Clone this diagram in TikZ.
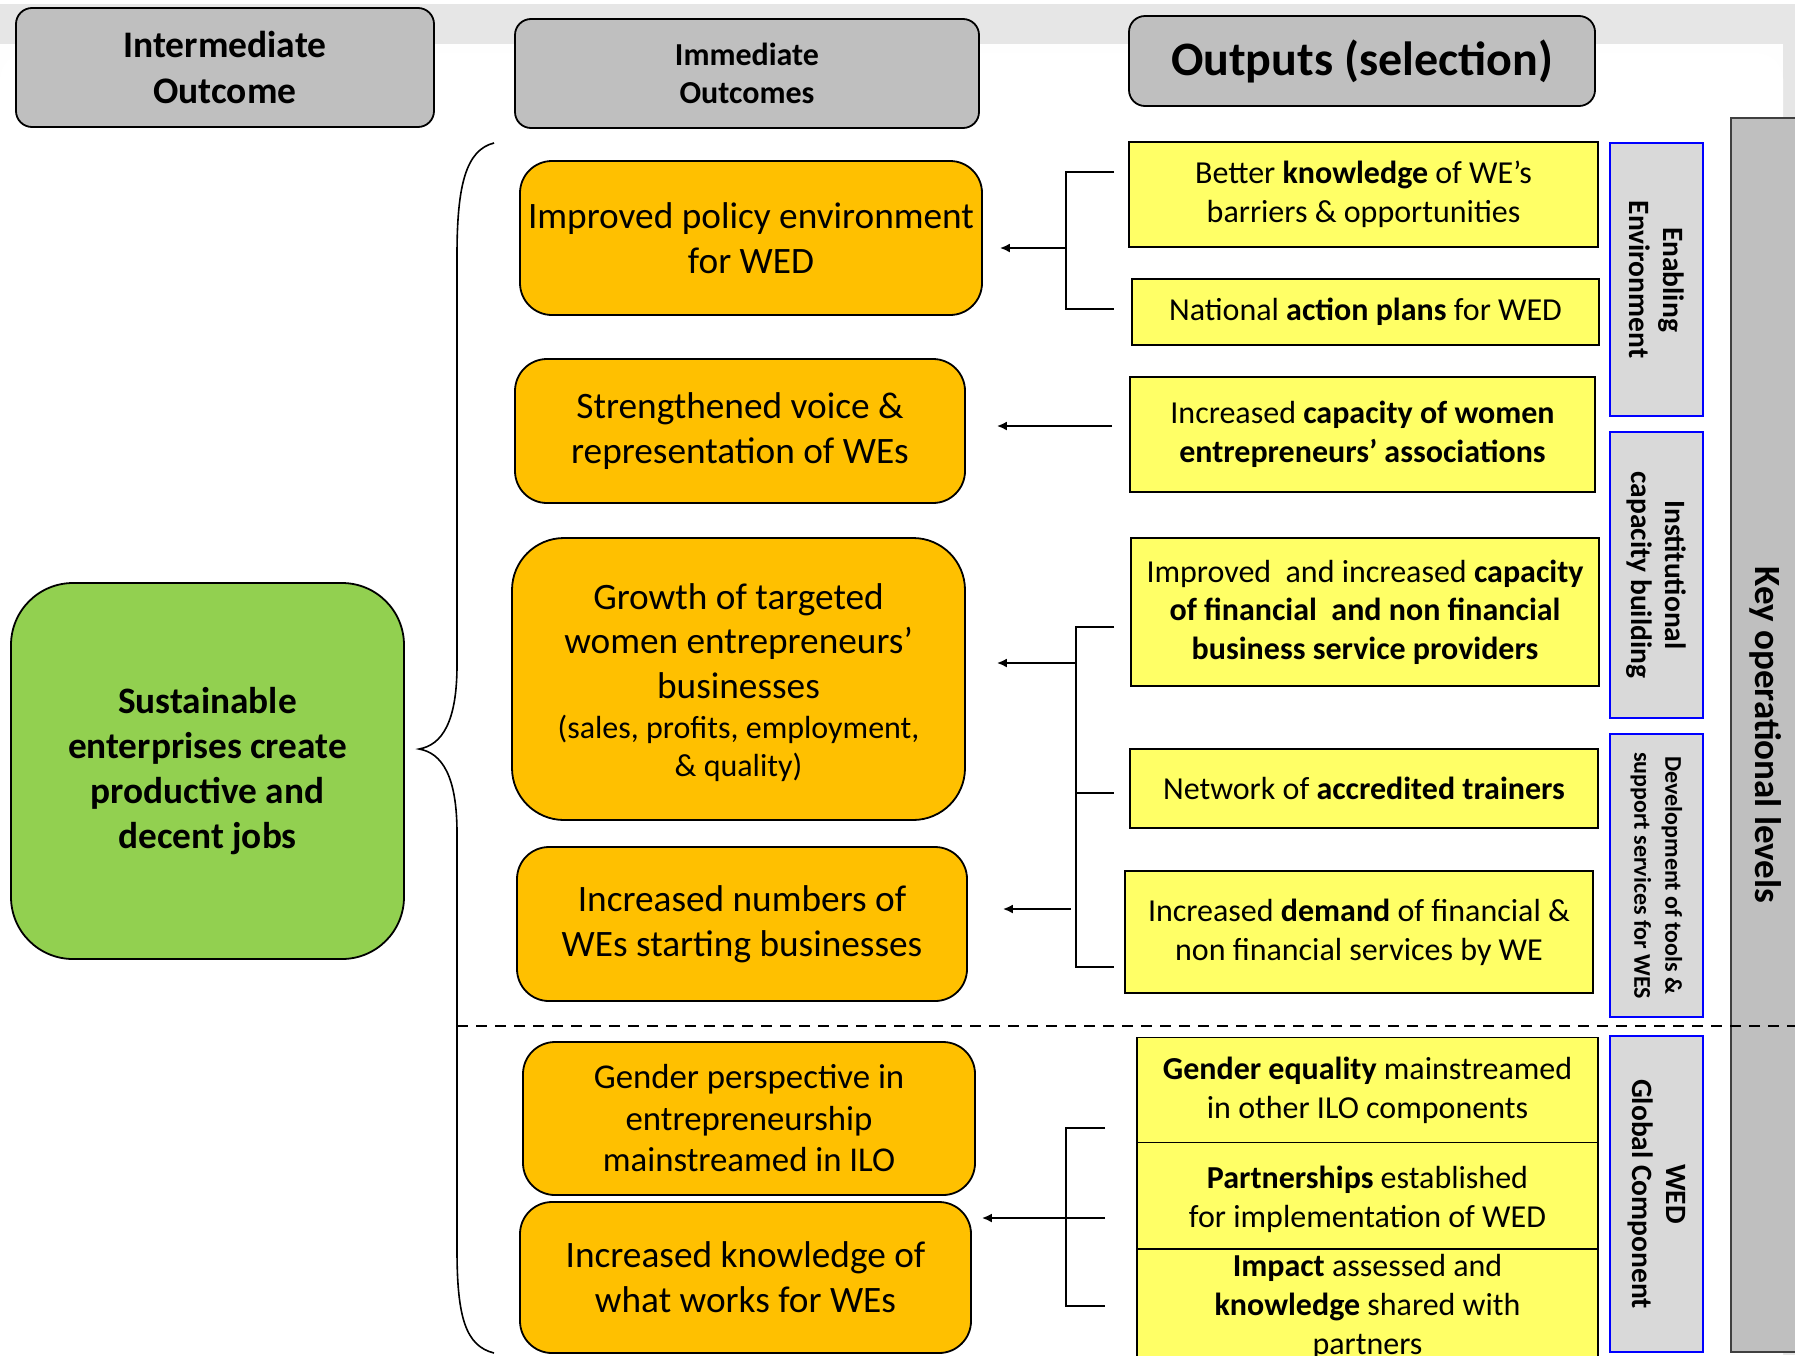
\documentclass[tikz,border=0pt]{standalone}
\usepackage{fontspec}
\setmainfont{Carlito}
\usetikzlibrary{arrows.meta}
\definecolor{orangeF}{HTML}{FFC000}
\definecolor{yellowF}{HTML}{FFFF66}
\definecolor{greenF}{HTML}{92D050}
\definecolor{headF}{HTML}{BFBFBF}
\definecolor{levelF}{HTML}{D9D9D9}
\definecolor{bandF}{HTML}{E6E6E6}
\definecolor{keyB}{HTML}{404040}
% lowers the text block of a node by #1 (adds a strut to its first line)
\newcommand\lowr[1]{\rule{0pt}{\dimexpr\fontcharht\font`h+#1*2\relax}}
\begin{document}
\begin{tikzpicture}[x=1pt,y=-1pt,
  header/.style={draw=black, line width=1.8pt, fill=headF, rounded corners=16pt, align=center, inner sep=0pt},
  outcome/.style={draw=black, line width=1.8pt, fill=orangeF, rounded corners=32pt, align=center, inner sep=0pt,
     font=\fontsize{37.3}{44.8}\selectfont},
  output/.style={draw=black, line width=1.8pt, fill=yellowF, align=center, inner sep=0pt,
     font=\fontsize{32}{38.7}\selectfont},
  level/.style={draw=blue, line width=1.6pt, fill=levelF, align=center, inner sep=0pt, rotate=-90},
  conn/.style={line width=1.8pt, draw=black},
  arr/.style={conn, -{Latex[length=10pt,width=9pt]}},
]
\useasboundingbox (0,0) rectangle (1795,1355);
% background
\fill[bandF] (0,4) rectangle (1795,1355);
\fill[white!95!bandF] (0,44) rectangle (1783,1355);
\fill[white, rounded corners=26pt] (0,53) -- (1783,53) -- (1783,1400) -- (0,1400) -- cycle;

% headers
\node[header, minimum width=418pt, minimum height=119pt, font=\fontsize{37.5}{46}\selectfont\bfseries]
  (h1) at (225,67.5) {Intermediate\\Outcome};
\node[header, minimum width=464pt, minimum height=109pt, font=\fontsize{32}{38}\selectfont\bfseries]
  (h2) at (747,73.5) {Immediate\\Outcomes};
\node[header, minimum width=466pt, minimum height=90pt, font=\fontsize{48}{54}\selectfont\bfseries]
  (h3) at (1362,61) {Outputs (selection)};

% intermediate outcome
\node[draw=black, line width=1.8pt, fill=greenF, rounded corners=62pt, align=center, inner sep=0pt,
  minimum width=393pt, minimum height=376pt, font=\fontsize{37.3}{45}\selectfont\bfseries]
  (io) at (207.5,771) {Sustainable\\enterprises create\\productive and\\decent jobs};

% brace
\coordinate (btop) at (494,143);
\coordinate (btip) at (419,749);
\coordinate (bbot) at (494,1353);
\draw[line width=1.6pt] (btop) .. controls (466,150) and (457,185) .. (457,255) -- (457,665)
  .. controls (457,722) and (442,745) .. (btip)
  .. controls (442,753) and (457,776) .. (457,833) -- (457,1250)
  .. controls (457,1318) and (466,1346) .. (bbot);

% immediate outcomes
\node[outcome, minimum width=462pt, minimum height=154pt] (o1) at (751,238) {Improved policy environment\\for WED};
\node[outcome, minimum width=450pt, minimum height=144pt] (o2) at (740,431) {Strengthened voice \&\\representation of WEs};
\node[outcome, minimum width=453pt, minimum height=282pt, rounded corners=52pt] (o3) at (738.5,679)
  {\lowr{3.5pt}Growth of targeted\\women entrepreneurs’\\businesses\\[-4.5pt]\fontsize{32}{38}\selectfont (sales, profits, employment,\\[-7pt]\fontsize{32}{38}\selectfont \& quality)};
\node[outcome, minimum width=450pt, minimum height=154pt] (o4) at (742,924) {Increased numbers of\\WEs starting businesses};
\node[outcome, minimum width=452pt, minimum height=153pt, font=\fontsize{34.8}{41.5}\selectfont] (o5) at (749,1118.5)
  {Gender perspective in\\entrepreneurship\\mainstreamed in ILO};
\node[outcome, minimum width=451pt, minimum height=151pt] (o6) at (745.5,1277.5) {Increased knowledge of\\what works for WEs};

% outputs
\node[output, minimum width=469pt, minimum height=105pt] (pa) at (1363.5,194.5)
  {Better \textbf{knowledge} of WE’s\\barriers \& opportunities};
\node[output, minimum width=467pt, minimum height=66pt] (pb) at (1365.5,312)
  {National \textbf{action plans} for WED};
\node[output, minimum width=465pt, minimum height=115pt] (pc) at (1362.5,434.5)
  {Increased \textbf{capacity of women}\\\textbf{entrepreneurs’ associations}};
\node[output, minimum width=468pt, minimum height=148pt] (pd) at (1365,612)
  {Improved\ \ and increased \textbf{capacity}\\\textbf{of financial\ \ and non financial}\\\textbf{business service providers}};
\node[output, minimum width=468pt, minimum height=79pt] (pe) at (1364,788.5)
  {Network of \textbf{accredited trainers}};
\node[output, minimum width=468pt, minimum height=122pt] (pf) at (1359,932)
  {Increased \textbf{demand} of financial \&\\non financial services by WE};
\node[output, minimum width=461pt, minimum height=105pt] (pg) at (1367.5,1090)
  {\textbf{Gender equality} mainstreamed\\in other ILO components};
\node[output, minimum width=461pt, minimum height=107pt] (ph) at (1367.5,1196)
  {\lowr{3.5pt}\textbf{Partnerships} established\\for implementation of WED};
\node[output, minimum width=461pt, minimum height=116pt] (pi) at (1367.5,1307)
  {\textbf{Impact} assessed and\\\textbf{knowledge} shared with\\partners};

% operational levels
\node[level, minimum width=273pt, minimum height=93pt, font=\fontsize{29.5}{34}\selectfont\bfseries]
  (l1) at (1656.5,279.5) {Enabling\\Environment};
\node[level, minimum width=286pt, minimum height=93pt, font=\fontsize{29.5}{34}\selectfont\bfseries]
  (l2) at (1656.5,575) {Institutional\\capacity building};
\node[level, minimum width=283pt, minimum height=93pt, font=\fontsize{24}{31}\selectfont\bfseries]
  (l3) at (1656.5,875.5) {Development of tools \&\\support services for WES};
\node[level, minimum width=316pt, minimum height=93pt, font=\fontsize{29.5}{34}\selectfont\bfseries]
  (l4) at (1656.5,1194) {WED\\Global Component};
\node[draw=keyB, line width=1.8pt, fill=headF, rotate=-90, inner sep=0pt, minimum width=1234pt, minimum height=69pt,
  font=\fontsize{37}{42}\selectfont\bfseries] (key) at (1765.5,735) {Key operational levels};

% dashed separator (drawn over the key column)
\coordinate (dl) at (457,1026);
\coordinate (dr) at (1795,1026);
\draw[line width=2.4pt, dash pattern=on 11pt off 8pt] (dl) -- (dr);

% connectors group 1
\coordinate (g1t) at (1114,172);
\coordinate (g1b) at (1114,309);
\coordinate (j1) at (1066,248);
\draw[conn] (g1t) -- (1066,172) -- (1066,309) -- (g1b);
\draw[arr, shorten >=17pt] (j1) -- (o1.east |- j1);
% connector 2
\coordinate (s2) at (1112,426);
\draw[arr, shorten >=31pt] (s2) -- (o2.east |- s2);
% group 3
\coordinate (g3t) at (1114,627);
\coordinate (g3m) at (1114,793);
\coordinate (g3b) at (1114,967);
\coordinate (j3) at (1076,663);
\coordinate (j3b) at (1071,909);
\draw[conn] (g3t) -- (1076,627) -- (1076,967) -- (g3b);
\draw[conn] (1076,793) -- (g3m);
\draw[arr, shorten >=31pt] (j3) -- (o3.east |- j3);
\draw[arr, shorten >=35pt] (j3b) -- (o4.east |- j3b);
% group 4
\coordinate (g4t) at (1105,1128);
\coordinate (g4m) at (1105,1218);
\coordinate (g4b) at (1105,1306);
\draw[conn] (g4t) -- (1066,1128) -- (1066,1306) -- (g4b);
\draw[arr, shorten >=10pt] (g4m) -- (o6.east |- g4m);
\end{tikzpicture}
\end{document}
